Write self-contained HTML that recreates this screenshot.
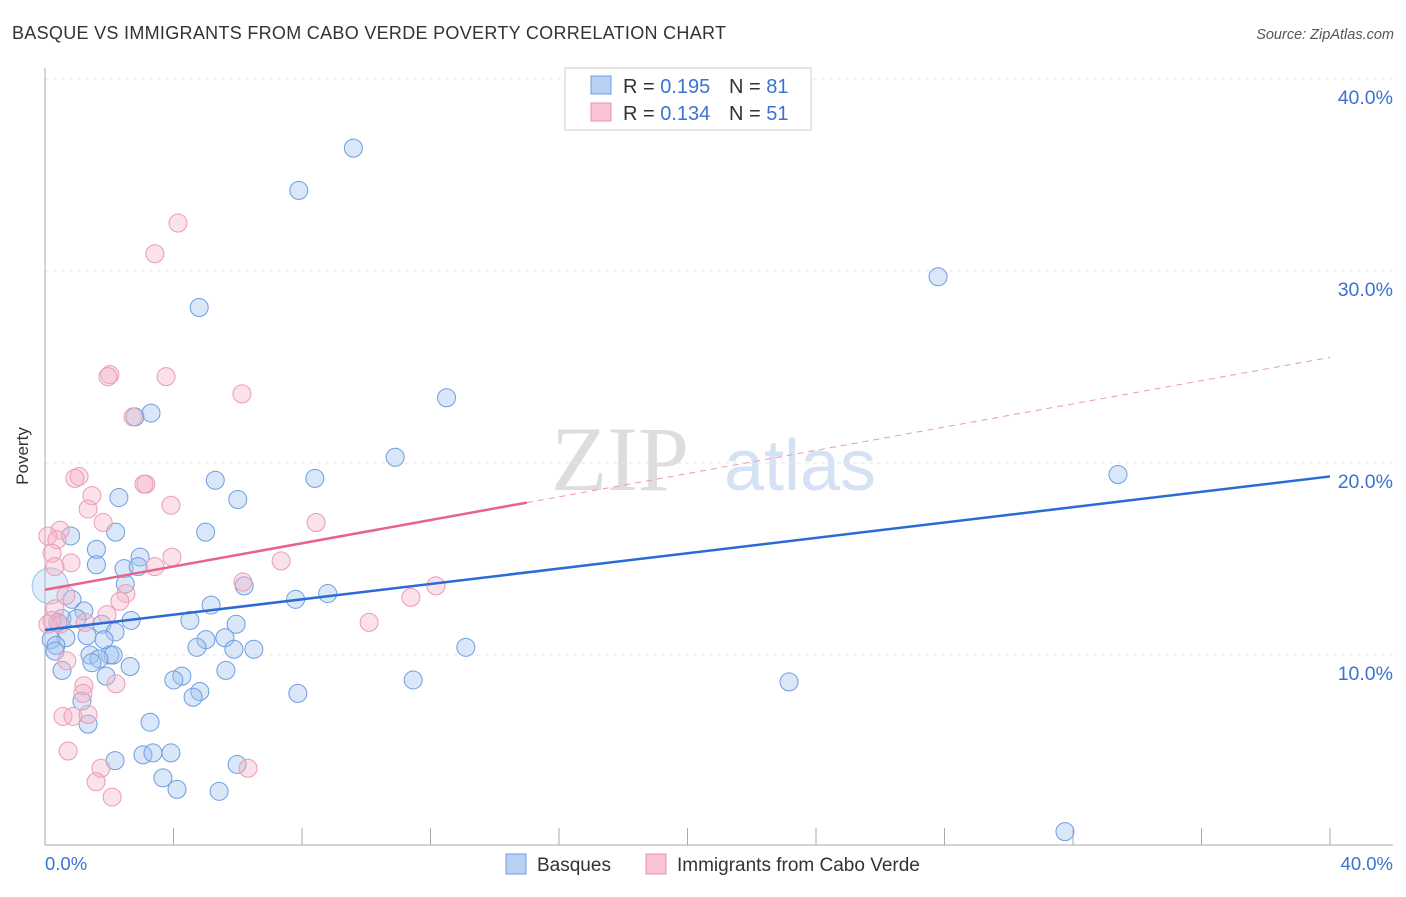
<!DOCTYPE html>
<html><head><meta charset="utf-8"><style>
body{margin:0;background:#fff;font-family:"Liberation Sans",sans-serif}
</style></head><body>
<svg id="c" width="1406" height="892" xmlns="http://www.w3.org/2000/svg" font-family="Liberation Sans, sans-serif">
<text x="12" y="39" font-size="18" fill="#333" textLength="714">BASQUE VS IMMIGRANTS FROM CABO VERDE POVERTY CORRELATION CHART</text>
<text x="1394" y="39" font-size="14.5" fill="#555" text-anchor="end" font-style="italic">Source: ZipAtlas.com</text>
<text x="28" y="456" font-size="17" fill="#333" text-anchor="middle" transform="rotate(-90 28 456)">Poverty</text>
<text x="620" y="490" font-size="92" fill="#ddd" font-family="Liberation Serif, serif" text-anchor="middle">ZIP</text>
<text x="800" y="490" font-size="72" fill="#d5e2f3" text-anchor="middle">atlas</text>
<g id="grid"></g><g id="axes"></g><g id="pts"></g><g id="lines"></g>
<g>
<rect x="565" y="68" width="246" height="62" fill="#fff" stroke="#ccc"/>
<rect x="591" y="76" width="20" height="18" fill="#b8d2f3" stroke="#6d9de0"/>
<rect x="591" y="103" width="20" height="18" fill="#f8c4d3" stroke="#e891ab"/>
<text x="623" y="93" font-size="20" fill="#333">R = <tspan fill="#3b73d0">0.195</tspan></text>
<text x="729" y="93" font-size="20" fill="#333">N = <tspan fill="#3b73d0">81</tspan></text>
<text x="623" y="120" font-size="20" fill="#333">R = <tspan fill="#3b73d0">0.134</tspan></text>
<text x="729" y="120" font-size="20" fill="#333">N = <tspan fill="#3b73d0">51</tspan></text>
</g>
<g>
<rect x="506" y="854" width="20" height="20" fill="#b8d2f3" stroke="#6d9de0"/>
<text x="537" y="871" font-size="19" fill="#333">Basques</text>
<rect x="646" y="854" width="20" height="20" fill="#f8c4d3" stroke="#e891ab"/>
<text x="677" y="871" font-size="19" fill="#333">Immigrants from Cabo Verde</text>
</g>
</svg>
<script>
const yTicks=[10,20,30,40];
const xTickLabels=["0.0%","40.0%"];
const blueX=[9.6,7.9,27.8,4.8,12.5,3.3,2.8,10.9,8.4,5.3,2.3,6.0,33.4,5.0,2.2,0.8,1.6,2.96,1.6,2.46,2.9,2.5,6.2,8.8,7.8,0.84,5.17,1.21,0.53,0.99,2.68,1.77,4.51,5.95,0.4,2.18,1.31,0.65,1.84,5.01,5.6,0.19,4.73,5.88,6.5,0.34,2.02,0.31,2.12,13.1,1.4,1.68,1.46,2.65,0.53,5.63,1.9,4.26,4.01,11.46,23.16,4.82,4.61,7.87,1.15,3.27,1.34,2.18,3.05,3.36,3.92,5.98,3.67,4.11,5.42,31.75,0.16];
const blueY=[36.4,34.2,29.7,28.1,23.4,22.6,22.4,20.3,19.2,19.1,18.2,18.1,19.4,16.4,16.4,16.2,15.5,15.1,14.7,14.5,14.6,13.7,13.6,13.2,12.9,12.9,12.6,12.3,11.9,11.9,11.8,11.6,11.8,11.6,11.7,11.2,11.0,10.9,10.8,10.8,10.9,10.8,10.4,10.3,10.3,10.5,10.0,10.2,10.0,10.4,10.0,9.8,9.6,9.4,9.2,9.2,8.9,8.9,8.7,8.7,8.6,8.1,7.8,8.0,7.6,6.5,6.4,4.5,4.8,4.9,4.9,4.3,3.6,3.0,2.9,0.8,13.6];
const pinkX=[4.14,3.42,2.02,1.96,3.77,6.13,2.74,1.06,0.93,1.46,3.14,3.08,3.92,1.34,1.81,8.44,0.47,0.09,0.37,0.22,7.35,3.95,3.42,0.81,0.31,6.16,12.17,2.52,0.65,2.33,11.39,1.93,10.09,1.25,0.09,0.47,0.68,1.21,1.18,2.21,0.56,0.87,1.34,0.72,1.74,1.59,2.09,6.32,0.31,0.22];
const pinkY=[32.5,30.9,24.6,24.5,24.5,23.6,22.4,19.3,19.2,18.3,18.9,18.9,17.8,17.6,16.9,16.9,16.5,16.2,16.0,15.3,14.9,15.1,14.6,14.8,14.6,13.8,13.6,13.2,13.1,12.8,13.0,12.1,11.7,11.7,11.6,11.6,9.7,8.4,8.0,8.5,6.8,6.8,6.9,5.0,4.1,3.4,2.6,4.1,12.4,11.8];
const blueLine=[11.3,19.3], pinkLine=[13.4,25.5], pinkSolidEnd=15.0;
const X=v=>45+v*32.125, Y=v=>847-v*19.2;
const NS="http://www.w3.org/2000/svg";
function mk(t,a,p){const e=document.createElementNS(NS,t);for(const k in a)e.setAttribute(k,a[k]);document.getElementById(p).appendChild(e);return e;}
yTicks.forEach(t=>{
 const l=mk('line',{x1:45,x2:1393,y1:Y(t),y2:Y(t),stroke:'#e6e6e6','stroke-dasharray':'4,4'},'grid');
 
 
 const tx=mk('text',{x:1393,y:Y(t)+25,'font-size':19.5,fill:'#3b73d0','text-anchor':'end'},'grid');
 tx.textContent=t.toFixed(1)+'%';
 
 
});
mk('line',{x1:45,x2:45,y1:68,y2:845,stroke:'#aaa'},'axes');
mk('line',{x1:45,x2:1393,y1:845,y2:845,stroke:'#aaa'},'axes');
for(let i=0;i<=10;i++){const t=mk('line',{x1:X(i*4),x2:X(i*4),y1:828,y2:845,stroke:'#aaa'},'axes');
 
 }
const xl0=mk('text',{x:45,y:870,'font-size':18.5,fill:'#3b73d0'},'axes');xl0.textContent=xTickLabels[0];


const xl1=mk('text',{x:1393,y:870,'font-size':18.5,fill:'#3b73d0','text-anchor':'end'},'axes');xl1.textContent=xTickLabels[1];


blueX.forEach((x,i)=>{const big=i==blueX.length-1;const c=mk('circle',{cx:X(x),cy:Y(blueY[i]),r:big?18:9,fill:big?'rgba(170,200,240,0.35)':'rgba(160,195,240,0.4)',stroke:big?'#9dbde8':'#6f9de0','stroke-width':1},'pts');
 
 });
pinkX.forEach((x,i)=>{const c=mk('circle',{cx:X(x),cy:Y(pinkY[i]),r:9,fill:'rgba(246,180,200,0.4)',stroke:'#eb9cb4','stroke-width':1},'pts');
 
 });
const bl=mk('line',{x1:X(0),y1:Y(blueLine[0]),x2:X(40),y2:Y(blueLine[1]),stroke:'#2a6bd4','stroke-width':2.5},'lines');


const ps=pinkLine[0]+(pinkLine[1]-pinkLine[0])*pinkSolidEnd/40;
const pl=mk('line',{x1:X(0),y1:Y(pinkLine[0]),x2:X(pinkSolidEnd),y2:Y(ps),stroke:'#e5638c','stroke-width':2.5},'lines');


const pd=mk('line',{x1:X(pinkSolidEnd),y1:Y(ps),x2:X(40),y2:Y(pinkLine[1]),stroke:'#e89ab2','stroke-width':1,'stroke-dasharray':'6,5'},'lines');


</script>
</body></html>
